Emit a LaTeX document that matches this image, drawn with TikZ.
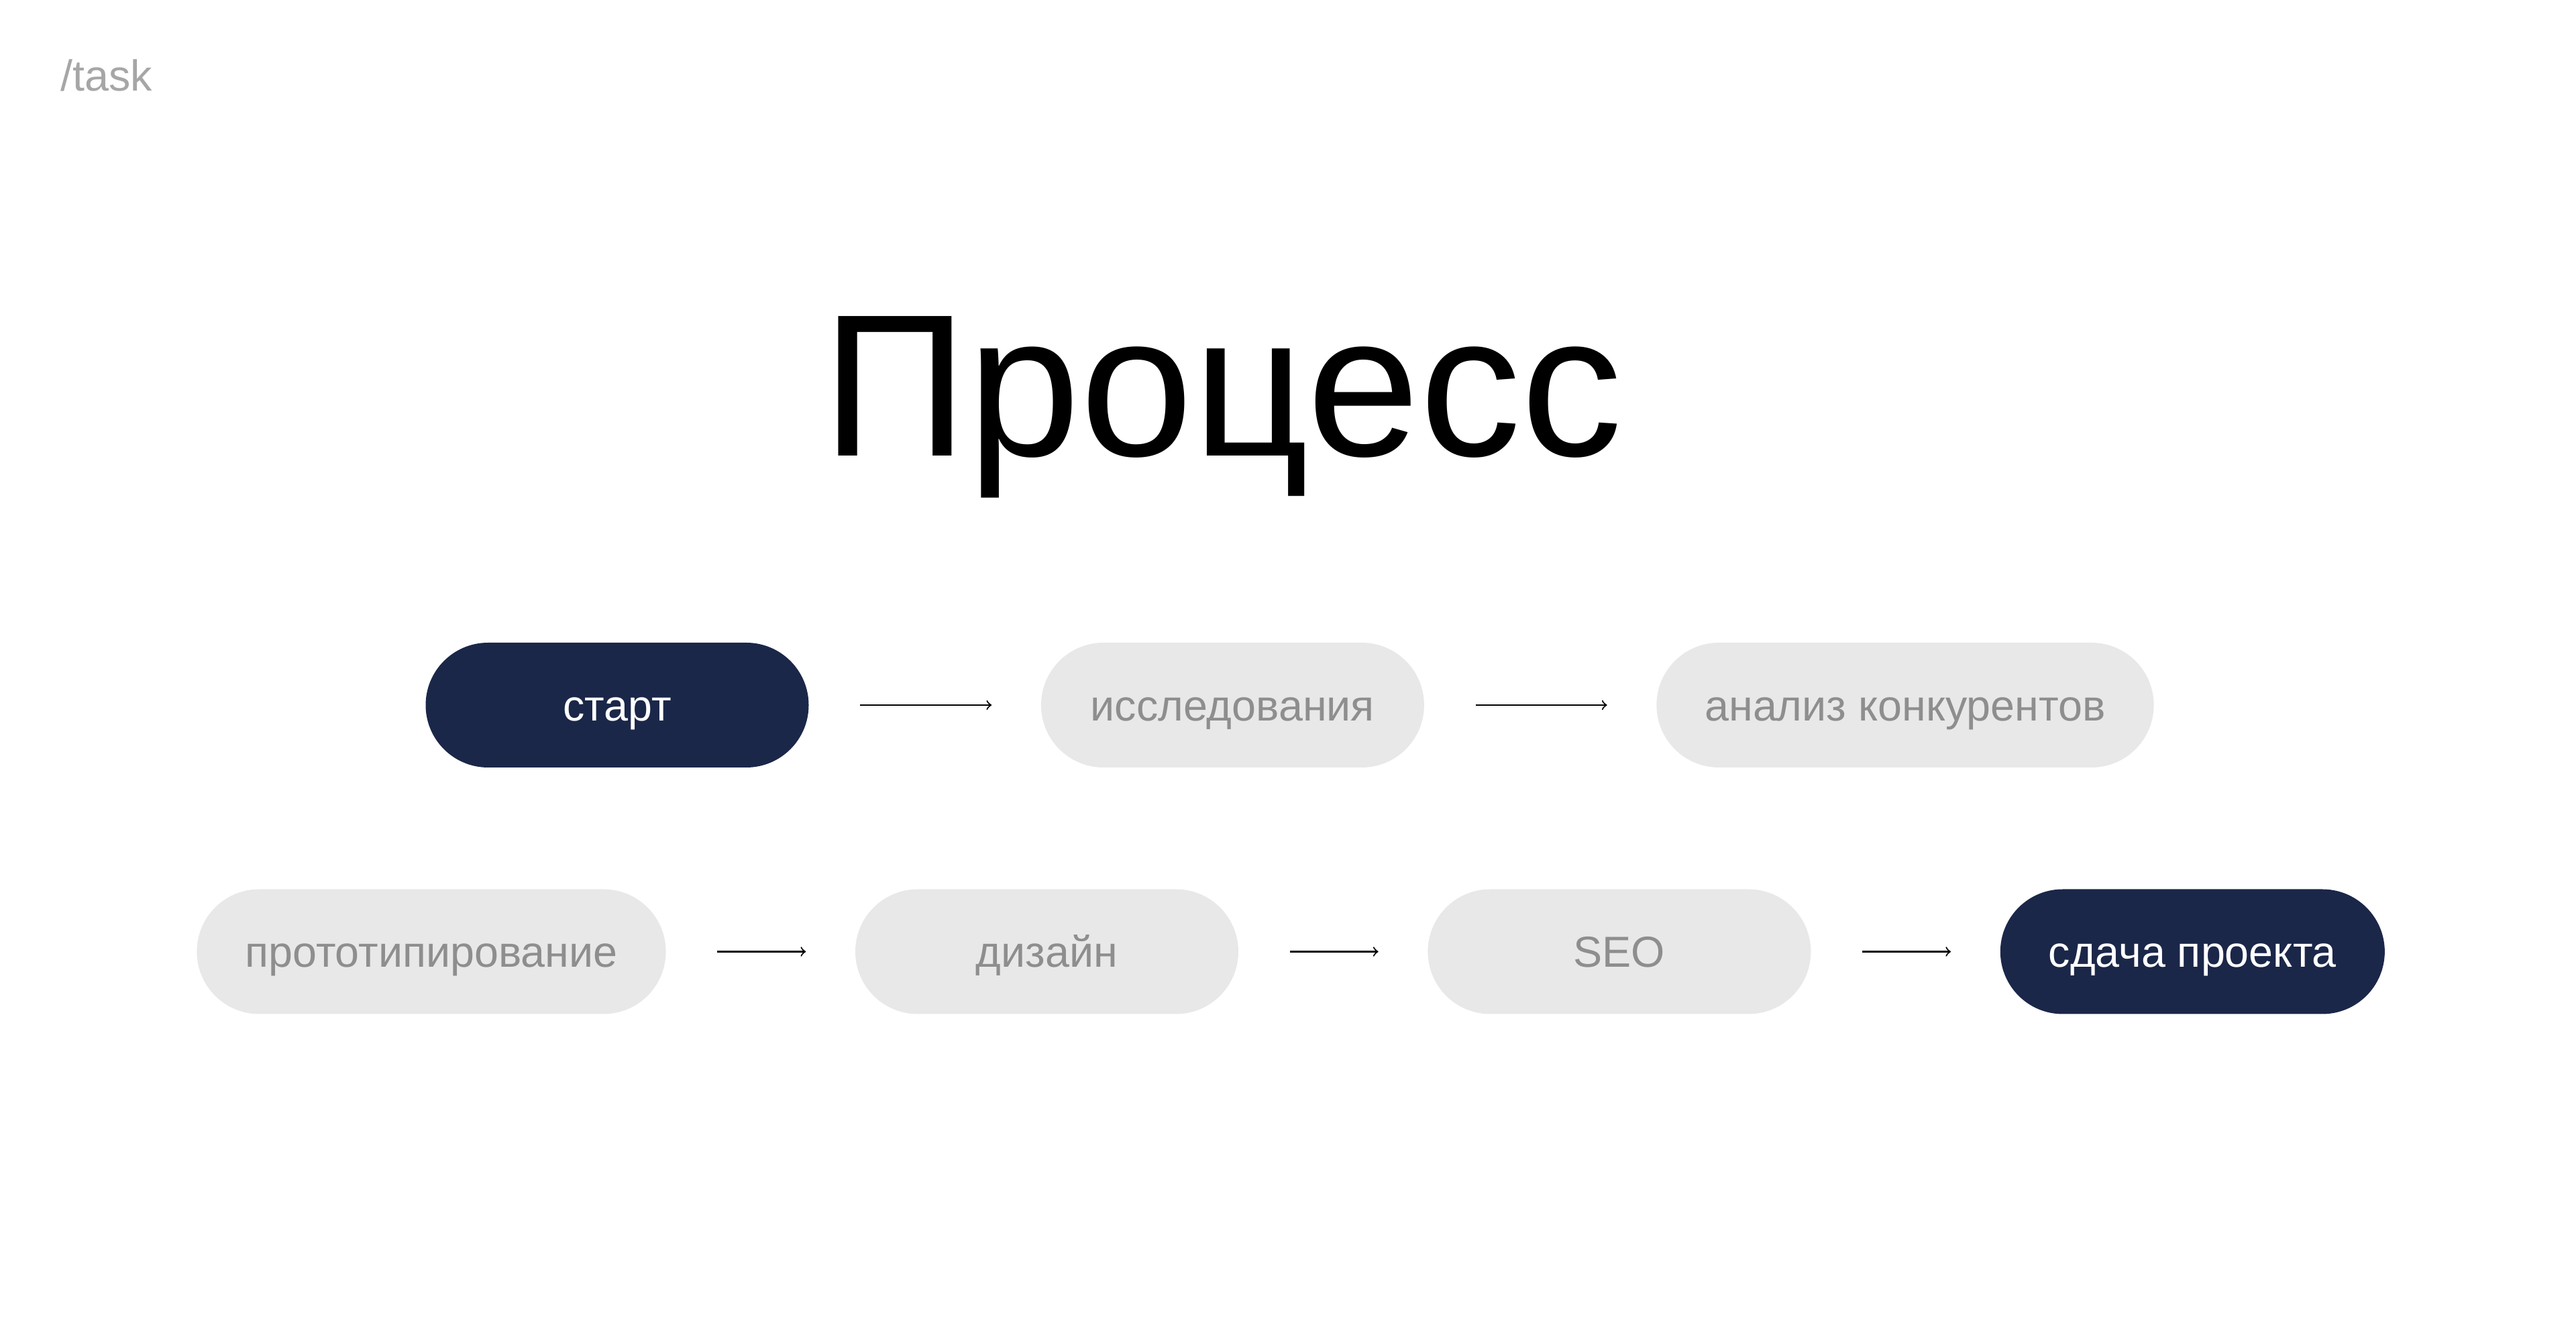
\documentclass[tikz,border=0pt]{standalone}
\usepackage{fontspec}
\setmainfont{Liberation Sans}
\usetikzlibrary{positioning}

\definecolor{navy}{HTML}{1B2749}
\definecolor{pillgray}{HTML}{E8E8E8}
\definecolor{textgray}{HTML}{8E8E8E}
\definecolor{taggray}{HTML}{A6A6A6}

\tikzset{
  pill/.style={rectangle, rounded corners=0.93cm, minimum width=5.71cm,
    minimum height=1.86cm, inner xsep=0.72cm, inner ysep=0pt,
    text height=0.47cm, text depth=0pt,
    font=\fontsize{18.4pt}{22pt}\selectfont},
  todo/.style={pill, fill=pillgray, text=textgray},
  done/.style={pill, fill=navy, text=white},
  flow/.style={->, line width=0.6pt, shorten <=0.76cm, shorten >=0.73cm}
}

\begin{document}
\begin{tikzpicture}

\useasboundingbox (0,0) rectangle (38.4,19.78);

% tag and title
\node[anchor=base west, inner sep=0pt, text=taggray,
  font=\fontsize{18.4pt}{22pt}\selectfont] (tag) at (0.9,18.42) {/task};
\node[anchor=base, inner sep=0pt,
  font=\fontsize{86pt}{100pt}\selectfont] (title) at (18.22,12.98) {Процесс};

% first row
\node[done] (start) at (9.20,9.27) {старт};
\node[todo, right=3.45cm of start] (research) {исследования};
\node[todo, right=3.45cm of research] (rivals) {анализ конкурентов};

\draw[flow] (start) -- (research);
\draw[flow] (research) -- (rivals);

% second row
\node[todo] (proto) at (6.43,5.595) {прототипирование};
\node[todo, right=2.81cm of proto] (design) {дизайн};
\node[todo, right=2.81cm of design] (seo) {SEO};
\node[done, right=2.81cm of seo] (handover) {сдача проекта};

\draw[flow] (proto) -- (design);
\draw[flow] (design) -- (seo);
\draw[flow] (seo) -- (handover);

\end{tikzpicture}
\end{document}
